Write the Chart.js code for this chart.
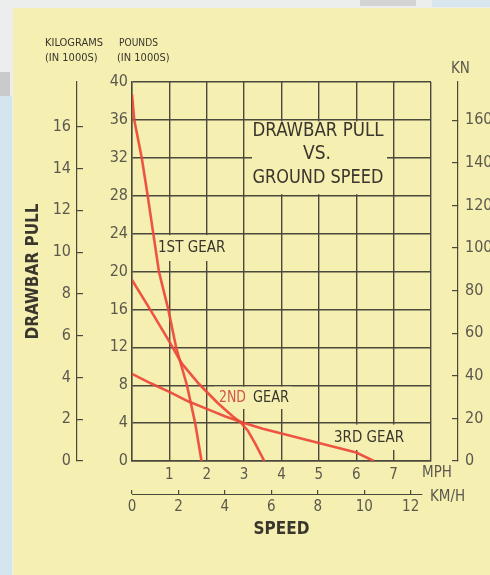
<!DOCTYPE html>
<html><head><meta charset="utf-8">
<script src="https://cdn.jsdelivr.net/npm/chart.js@4/dist/chart.umd.min.js"></script>
<style>html,body{margin:0;padding:0;background:#f6efb2;overflow:hidden}canvas{display:block}</style>
</head><body>
<canvas id="c" width="490" height="575"></canvas>
<script>
// ---- data (speed in MPH, drawbar pull in 1000s of pounds) ----
const gear1Speed = [0, 0.06, 0.26, 0.42, 0.57, 0.72, 0.97, 1.18, 1.47, 1.69, 1.86];
const gear1Pull  = [38.7, 36, 32, 28, 24, 20, 16, 12, 8, 4, 0];
const gear2Speed = [0, 0.5, 1.0, 1.33, 1.8, 2.3, 2.7, 2.9, 3.1, 3.3, 3.54];
const gear2Pull  = [19.1, 15.9, 12.6, 10.3, 8.1, 6.1, 4.7, 4.1, 3.2, 1.8, 0];
const gear3Speed = [0, 0.5, 1, 1.5, 2, 2.5, 3, 3.5, 4, 4.5, 5, 5.5, 6, 6.47];
const gear3Pull  = [9.2, 8.2, 7.3, 6.3, 5.5, 4.7, 4.0, 3.4, 2.9, 2.4, 1.9, 1.4, 0.9, 0];
const seriesLabels = ['1ST GEAR', '2ND GEAR', '3RD GEAR'];

// ---- tick labels ----
const mphTicks = [1, 2, 3, 4, 5, 6, 7];
const poundTicks = [0, 4, 8, 12, 16, 20, 24, 28, 32, 36, 40];
const kgTicks = [0, 2, 4, 6, 8, 10, 12, 14, 16];
const knTicks = [0, 20, 40, 60, 80, 100, 120, 140, 160];
const kmhTicks = [0, 2, 4, 6, 8, 10, 12];

// unit conversions
const LB_PER_KG = 2.20462, KN_PER_KLB = 4.44822, KMH_PER_MPH = 1.609344;
const MPH_MAX = 8, KLB_MAX = 40;

const FONT = "'DejaVu Sans Condensed','Liberation Sans Narrow','DejaVu Sans',sans-serif";
const BG = '#f6efb2', INK = '#38362d', TICKC = '#5b594e', GRIDC = '#4b493c', RED = 'rgba(236,72,56,0.92)';

const pts = (xs, ys) => xs.map((v, i) => ({x: v, y: ys[i]}));
const setTicks = arr => s => { s.ticks = arr.map(v => ({value: v})); };

const decor = {
  id: 'decor',
  beforeDraw(chart) {
    const c = chart.ctx;
    c.save();
    c.fillStyle = '#eceeed'; c.fillRect(0, 0, 490, 575);
    c.fillStyle = '#d3e5ef'; c.fillRect(0, 96, 12, 479);
    c.fillStyle = '#c9cbcb'; c.fillRect(0, 72, 10, 24);
    c.fillStyle = '#d2d3d2'; c.fillRect(360, 0, 56, 6);
    c.fillStyle = '#d8e6ee'; c.fillRect(432, 0, 58, 7);
    c.fillStyle = BG; c.fillRect(13, 8, 477, 567);
    c.restore();
  },
  beforeDatasetsDraw(chart) {
    const c = chart.ctx, y = chart.scales.y;
    const m = (x0, x1, y0, y1) => c.fillRect(x0, y0, x1 - x0, y1 - y0);
    c.save(); c.fillStyle = BG;
    m(252, 387, y.getPixelForValue(36) + 1.5, y.getPixelForValue(28) - 1.5);
    m(155, 232, y.getPixelForValue(24) + 1.5, 261);
    m(214, 292, y.getPixelForValue(8) + 1.5, 409);
    m(330, 408, y.getPixelForValue(4) + 1.5, 450);
    c.restore();
  },
  afterDraw(chart) {
    const c = chart.ctx;
    const t = (s, x, y, size, color, align, maxW, weight) => {
      c.font = (weight || '') + ' ' + size + 'px ' + FONT;
      c.fillStyle = color; c.textAlign = align || 'left'; c.textBaseline = 'middle';
      if (maxW) c.fillText(s, x, y, maxW); else c.fillText(s, x, y);
    };
    c.save();
    t('KILOGRAMS', 45, 43, 11, INK, 'left', 58);
    t('POUNDS', 119, 43, 11, INK, 'left', 39);
    t('(IN 1000S)', 45, 58, 11, INK, 'left', 62);
    t('(IN 1000S)', 117, 58, 11, INK, 'left', 62);
    t('KN', 451, 69, 15, TICKC, 'left', 19);
    t('MPH', 422, 473, 15, TICKC, 'left', 31);
    t('KM/H', 430, 497, 15, TICKC, 'left', 39);
    t('DRAWBAR PULL', 318, 131, 19, INK, 'center', 131);
    t('VS.', 317, 154, 19, INK, 'center');
    t('GROUND SPEED', 318, 178, 19, INK, 'center', 131);
    t(seriesLabels[0], 158, 248, 15, INK, 'left', 70);
    t('2ND', 219, 398, 15, '#d0564a', 'left', 27);
    t('GEAR', 253, 398, 15, INK, 'left', 36);
    t(seriesLabels[2], 334, 438, 15, INK, 'left', 70);
    // km/h axis line
    const k = chart.scales.kmh;
    c.strokeStyle = GRIDC; c.lineWidth = 1.2;
    c.beginPath(); c.moveTo(k.getPixelForValue(0), k.top + 0.5); c.lineTo(k.getPixelForValue(12.5), k.top + 0.5); c.stroke();
    c.restore();
  }
};

const lineDs = (label, xs, ys) => ({
  label, data: pts(xs, ys), showLine: true, borderColor: RED, backgroundColor: RED,
  borderWidth: 2.6, pointRadius: 0, tension: 0, fill: false
});

new Chart(document.getElementById('c'), {
  type: 'scatter',
  data: { datasets: [
    lineDs(seriesLabels[0], gear1Speed, gear1Pull),
    lineDs(seriesLabels[1], gear2Speed, gear2Pull),
    lineDs(seriesLabels[2], gear3Speed, gear3Pull)
  ]},
  options: {
    responsive: false, animation: false, devicePixelRatio: 1,
    layout: { padding: { top: 82, left: 0, right: 0, bottom: 0 } },
    plugins: { legend: { display: false }, tooltip: { enabled: false }, title: { display: false } },
    scales: {
      x: {
        type: 'linear', position: 'bottom', min: 0, max: MPH_MAX, weight: 0,
        afterFit: s => { s.height = 33; },
        grid: { color: GRIDC, lineWidth: 1.4, drawTicks: false },
        border: { display: true, color: GRIDC, width: 1.4 },
        ticks: { stepSize: 1, padding: 5, color: TICKC, font: { family: FONT, size: 15 },
                 callback: v => mphTicks.includes(v) ? String(v) : '' }
      },
      kmh: {
        type: 'linear', position: 'bottom', min: 0, max: MPH_MAX * KMH_PER_MPH, weight: 1,
        afterFit: s => { s.height = 81; },
        afterBuildTicks: setTicks(kmhTicks),
        grid: { drawOnChartArea: false, drawTicks: true, tickLength: -4, color: GRIDC, lineWidth: 1.2 },
        border: { display: false },
        ticks: { padding: 8, color: TICKC, font: { family: FONT, size: 15 } },
        title: { display: true, text: 'SPEED', color: INK, font: { family: FONT, size: 17, weight: 'bold' },
                 padding: { top: 0, bottom: 35 } }
      },
      y: {
        type: 'linear', position: 'left', min: 0, max: KLB_MAX, weight: 0,
        afterFit: s => { s.width = 55; },
        afterBuildTicks: setTicks(poundTicks),
        grid: { color: GRIDC, lineWidth: 1.4, drawTicks: false },
        border: { display: true, color: GRIDC, width: 1.4 },
        ticks: { padding: 4, color: TICKC, font: { family: FONT, size: 16 } }
      },
      kg: {
        type: 'linear', position: 'left', min: 0, max: KLB_MAX / LB_PER_KG, weight: 1,
        afterFit: s => { s.width = 77; },
        afterBuildTicks: setTicks(kgTicks),
        grid: { drawOnChartArea: false, drawTicks: true, tickLength: -6, color: GRIDC, lineWidth: 1.2 },
        border: { display: true, color: GRIDC, width: 1.2 },
        ticks: { padding: 12, color: TICKC, font: { family: FONT, size: 16 } },
        title: { display: true, text: 'DRAWBAR PULL', color: INK, font: { family: FONT, size: 17, weight: 'bold' },
                 padding: { top: 23, bottom: 0 } }
      },
      pad: {
        type: 'linear', position: 'right', weight: 0, min: 0, max: 1,
        afterFit: s => { s.width = 27; },
        grid: { display: false, drawTicks: false }, border: { display: false }, ticks: { display: false }
      },
      kn: {
        type: 'linear', position: 'right', min: 0, max: KLB_MAX * KN_PER_KLB, weight: 1,
        afterFit: s => { s.width = 32; },
        afterBuildTicks: setTicks(knTicks),
        grid: { drawOnChartArea: false, drawTicks: true, tickLength: -6, color: GRIDC, lineWidth: 1.2 },
        border: { display: true, color: GRIDC, width: 1.2 },
        ticks: { padding: 13, color: TICKC, font: { family: FONT, size: 16 } }
      }
    }
  },
  plugins: [decor]
});
</script>
</body></html>
